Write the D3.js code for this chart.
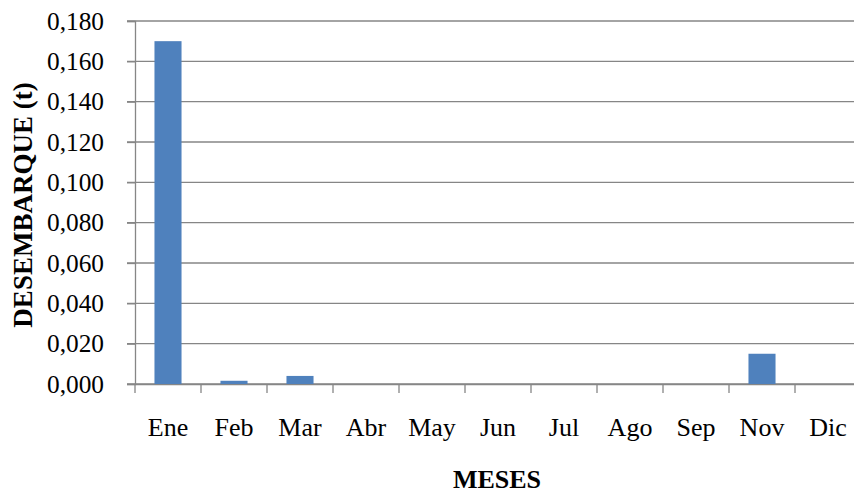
<!DOCTYPE html>
<html>
<head>
<meta charset="utf-8" />
<title>Desembarque por mes</title>
<script src="https://d3js.org/d3.v7.min.js"></script>
<style>
    body { margin: 0; background: #fff; }
    text { font-family: "Liberation Serif", "Times New Roman", serif; fill: #000; }
</style>
</head>
<body>
<script>
    // data
    var meses = ['Ene', 'Feb', 'Mar', 'Abr', 'May', 'Jun', 'Jul', 'Ago', 'Sep', 'Nov', 'Dic'];
    var desembarque = [0.170, 0.0016, 0.004, 0, 0, 0, 0, 0, 0, 0.015, 0];
    var yTicks = [0, 0.02, 0.04, 0.06, 0.08, 0.10, 0.12, 0.14, 0.16, 0.18];

    var width = 854, height = 496
        , plotL = 135, plotR = 861, plotT = 21, plotB = 384
        , grey = '#868686';

    var svg = d3.select('body').append('svg')
        .attr('width', width)
        .attr('height', height);

    var x = d3.scaleBand().domain(meses).range([plotL, plotR]).paddingInner(0.59).paddingOuter(0.295);
    var xCat = d3.scaleBand().domain(meses).range([plotL, plotR]);
    var y = d3.scaleLinear().domain([0, 0.18]).range([plotB, plotT]);

    var fmt = d => d3.format('.3f')(d).replace('.', ',');

    // gridlines
    svg.append('g').selectAll('line')
        .data(yTicks)
        .enter().append('line')
        .attr('x1', plotL - 8).attr('x2', width)
        .attr('y1', d => y(d)).attr('y2', d => y(d))
        .attr('stroke', grey).attr('stroke-width', 1.3);

    // y axis
    var yAxis = svg.append('g')
        .attr('transform', `translate(${plotL},0)`)
        .call(d3.axisLeft(y).tickValues(yTicks).tickFormat(fmt).tickSize(8).tickPadding(23));
    yAxis.attr('font-family', null);
    yAxis.select('.domain').attr('stroke', grey).attr('stroke-width', 1.3);
    yAxis.selectAll('.tick line').attr('stroke', grey).attr('stroke-width', 1.3);
    yAxis.selectAll('text')
        .style('font-size', '26px')
        .attr('textLength', 57)
        .attr('lengthAdjust', 'spacingAndGlyphs');

    // x axis
    var xAxis = svg.append('g')
        .attr('transform', `translate(0,${plotB})`)
        .call(d3.axisBottom(xCat).tickSize(0).tickPadding(34));
    xAxis.attr('font-family', null);
    xAxis.select('.domain').attr('stroke', grey).attr('stroke-width', 1.3);
    xAxis.selectAll('text').style('font-size', '26px');

    // category boundary ticks
    svg.append('g').selectAll('line')
        .data(meses)
        .enter().append('line')
        .attr('x1', d => xCat(d)).attr('x2', d => xCat(d))
        .attr('y1', plotB).attr('y2', plotB + 9)
        .attr('stroke', grey).attr('stroke-width', 1.3);

    // bars
    svg.append('g').selectAll('rect')
        .data(desembarque)
        .enter().append('rect')
        .attr('x', (d, i) => x(meses[i]))
        .attr('width', x.bandwidth())
        .attr('y', d => y(d))
        .attr('height', d => plotB - y(d))
        .attr('fill', '#4F81BD');

    // titles
    svg.append('text')
        .attr('transform', 'translate(32,205) rotate(-90)')
        .attr('text-anchor', 'middle')
        .style('font-size', '27px')
        .style('font-weight', 'bold')
        .text('DESEMBARQUE (t)');

    svg.append('text')
        .attr('x', 497)
        .attr('y', 488)
        .attr('text-anchor', 'middle')
        .style('font-size', '26px')
        .style('font-weight', 'bold')
        .text('MESES');
</script>
</body>
</html>
